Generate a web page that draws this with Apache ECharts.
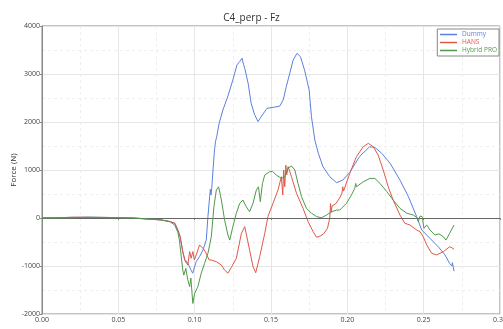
<!DOCTYPE html>
<html>
<head>
<meta charset="utf-8">
<script src="https://cdn.jsdelivr.net/npm/echarts@6/dist/echarts.min.js"></script>
<style>
  html, body { margin: 0; padding: 0; background: #fff; }
  #chart { width: 503px; height: 329px; }
</style>
</head>
<body>
<div id="chart"></div>
<script>
// Axis ticks
const xTicks = [0, 0.05, 0.10, 0.15, 0.20, 0.25, 0.30];
const yTicks = [-2000, -1000, 0, 1000, 2000, 3000, 4000];

// Dummy
const dummyT = [0, 0.01, 0.02, 0.03, 0.04, 0.05, 0.06, 0.07, 0.078, 0.084, 0.087, 0.089, 0.0905, 0.0922, 0.0935, 0.0956, 0.0975, 0.0987, 0.101, 0.1032, 0.1054, 0.1076, 0.1087, 0.1098, 0.1103, 0.1107, 0.1112, 0.112, 0.113, 0.1137, 0.1145, 0.116, 0.1185, 0.122, 0.125, 0.1277, 0.1285, 0.129, 0.1295, 0.1302, 0.131, 0.132, 0.1328, 0.135, 0.137, 0.1393, 0.1415, 0.1444, 0.1474, 0.1513, 0.1557, 0.158, 0.160, 0.1623, 0.1645, 0.167, 0.1693, 0.172, 0.175, 0.1765, 0.1787, 0.181, 0.184, 0.1885, 0.193, 0.197, 0.2016, 0.208, 0.2146, 0.218, 0.2225, 0.228, 0.2345, 0.240, 0.2454, 0.2487, 0.254, 0.2596, 0.264, 0.267, 0.2685, 0.2688, 0.2699];
const dummyF = [0, 5, 15, 15, 10, 5, 0, -20, -40, -75, -110, -250, -390, -700, -860, -945, -1080, -1150, -910, -805, -670, -460, 30, 445, 600, 480, 620, 1000, 1420, 1600, 1700, 1970, 2250, 2560, 2875, 3190, 3230, 3160, 3260, 3220, 3330, 3200, 3120, 2810, 2390, 2150, 2010, 2150, 2285, 2305, 2330, 2460, 2735, 3015, 3290, 3430, 3360, 3080, 2665, 2110, 1625, 1350, 1070, 860, 735, 790, 950, 1280, 1485, 1470, 1350, 1140, 790, 445, 30, -250, -420, -600, -770, -945, -1000, -930, -1110];

// HANS
const hansT = [0, 0.01, 0.02, 0.03, 0.04, 0.05, 0.06, 0.07, 0.078, 0.084, 0.087, 0.089, 0.0905, 0.0922, 0.0935, 0.0945, 0.0955, 0.0967, 0.0977, 0.0988, 0.0998, 0.101, 0.1032, 0.1054, 0.107, 0.108, 0.1095, 0.1109, 0.1142, 0.1175, 0.1196, 0.1218, 0.124, 0.1273, 0.1306, 0.1328, 0.136, 0.1382, 0.14, 0.1426, 0.1459, 0.148, 0.1513, 0.1546, 0.1568, 0.1577, 0.1583, 0.159, 0.1597, 0.1603, 0.1612, 0.1634, 0.1667, 0.171, 0.1743, 0.1776, 0.1798, 0.182, 0.1845, 0.187, 0.1885, 0.189, 0.1895, 0.190, 0.1925, 0.195, 0.1965, 0.197, 0.1975, 0.2016, 0.206, 0.2104, 0.2137, 0.217, 0.2202, 0.2235, 0.2268, 0.23, 0.2345, 0.2377, 0.241, 0.2454, 0.2476, 0.2497, 0.252, 0.2552, 0.2585, 0.2629, 0.267, 0.2685, 0.2699];
const hansF = [0, 5, 15, 15, 10, 0, -5, -25, -40, -75, -110, -250, -390, -700, -880, -920, -980, -700, -840, -700, -875, -770, -560, -630, -700, -770, -875, -875, -910, -980, -1085, -1150, -1030, -840, -320, -180, -670, -1010, -1140, -805, -320, 30, 305, 585, 860, 480, 1000, 650, 1100, 900, 1070, 860, 515, 200, -75, -285, -400, -380, -330, -215, 0, 300, 120, 250, 300, 420, 520, 650, 560, 930, 1280, 1485, 1555, 1485, 1310, 1000, 650, 375, 60, -110, -145, -250, -285, -390, -560, -735, -770, -700, -600, -620, -650];

// Hybrid PRO
const hybridT = [0, 0.01, 0.02, 0.03, 0.04, 0.05, 0.06, 0.07, 0.078, 0.084, 0.087, 0.089, 0.090, 0.0922, 0.0929, 0.0942, 0.0955, 0.0967, 0.0975, 0.0988, 0.100, 0.1021, 0.1043, 0.1065, 0.1087, 0.1109, 0.1126, 0.1142, 0.1157, 0.1175, 0.1196, 0.1218, 0.123, 0.125, 0.1273, 0.1295, 0.1316, 0.1338, 0.136, 0.1382, 0.1404, 0.1418, 0.143, 0.1444, 0.1459, 0.1491, 0.151, 0.1535, 0.1568, 0.159, 0.1612, 0.1634, 0.1656, 0.1677, 0.170, 0.1732, 0.1765, 0.1798, 0.183, 0.1863, 0.1896, 0.193, 0.195, 0.1994, 0.2027, 0.2049, 0.2055, 0.206, 0.2104, 0.2148, 0.218, 0.2214, 0.2258, 0.230, 0.2345, 0.239, 0.2433, 0.2454, 0.2465, 0.2476, 0.249, 0.2502, 0.252, 0.2541, 0.2574, 0.260, 0.2629, 0.2646, 0.267, 0.2699];
const hybridF = [0, 0, 5, 15, 15, 5, 0, -20, -40, -80, -150, -300, -460, -1085, -1190, -1050, -1290, -1430, -1250, -1780, -1570, -1430, -1150, -945, -735, -390, 235, 585, 650, 375, -40, -355, -460, -180, 100, 305, 375, 235, 130, 305, 585, 650, 340, 720, 895, 965, 970, 895, 825, 860, 1035, 1085, 1000, 720, 445, 200, 100, 30, 5, 60, 130, 165, 165, 305, 480, 620, 720, 650, 755, 825, 825, 720, 550, 375, 200, 100, 60, 15, -75, 40, 30, -215, -145, -250, -355, -330, -390, -460, -320, -145];

const seriesNames = ['Dummy', 'HANS', 'Hybrid PRO'];
const seriesColors = ['#5b80e0', '#e05848', '#50994a'];

function pairs(t, f) { return t.map((x, i) => [x, f[i]]); }

const chart = echarts.init(document.getElementById('chart'), null, { renderer: 'canvas' });
const axisFont = { fontFamily: 'Open Sans', fontSize: 7, color: '#444' };

chart.setOption({
  animation: false,
  backgroundColor: '#fff',
  title: {
    text: 'C4_perp - Fz',
    left: 'center',
    top: 8,
    textStyle: { fontFamily: 'Open Sans', fontSize: 10, fontWeight: 'normal', color: '#333' }
  },
  legend: {
    orient: 'vertical',
    right: 4,
    top: 29,
    padding: [2, 2, 2, 2],
    itemWidth: 17,
    itemHeight: 7,
    itemGap: 1,
    backgroundColor: '#fff',
    borderColor: '#888',
    borderWidth: 1,
    borderRadius: 0,
    itemStyle: { opacity: 0 },
    lineStyle: { width: 1.5 },
    textStyle: { fontFamily: 'Open Sans', fontSize: 6.5 },
    data: seriesNames.map((n, i) => ({ name: n, textStyle: { color: seriesColors[i] } }))
  },
  grid: {
    left: 42, right: 3, top: 26, bottom: 15,
    outerBoundsMode: 'none',
    containLabel: false,
    show: true, borderColor: '#888', borderWidth: 1, backgroundColor: 'transparent'
  },
  xAxis: {
    type: 'value',
    min: xTicks[0], max: xTicks[xTicks.length - 1], interval: 0.05,
    name: 'Time (s)', nameLocation: 'middle', nameGap: 16, nameMoveOverlap: false,
    nameTextStyle: { fontFamily: 'Open Sans', fontSize: 8, color: '#333' },
    axisLine: { show: true, lineStyle: { color: '#888', width: 1 } },
    axisTick: { show: true, length: 2, lineStyle: { color: '#888' } },
    axisLabel: Object.assign({ margin: 2, formatter: v => v.toFixed(2), showMaxLabel: true, hideOverlap: false }, axisFont),
    splitLine: { show: true, lineStyle: { color: '#e6e6e6', width: 1 } },
    minorTick: { show: false, splitNumber: 2 },
    minorSplitLine: { show: true, lineStyle: { color: '#eeeeee', type: [3, 3], width: 1 } }
  },
  yAxis: {
    type: 'value',
    min: yTicks[0], max: yTicks[yTicks.length - 1], interval: 1000,
    name: 'Force (N)', nameLocation: 'middle', nameGap: 24, nameMoveOverlap: false,
    nameTextStyle: { fontFamily: 'Open Sans', fontSize: 8, color: '#333' },
    axisLine: { show: true, lineStyle: { color: '#888', width: 1 } },
    axisTick: { show: true, length: 2, lineStyle: { color: '#888' } },
    axisLabel: Object.assign({ margin: 2, formatter: v => String(v) }, axisFont),
    splitLine: { show: true, lineStyle: { color: '#e6e6e6', width: 1 } },
    minorTick: { show: false, splitNumber: 2 },
    minorSplitLine: { show: true, lineStyle: { color: '#eeeeee', type: [3, 3], width: 1 } }
  },
  series: [
    [dummyT, dummyF], [hansT, hansF], [hybridT, hybridF]
  ].map((d, i) => ({
    name: seriesNames[i],
    type: 'line',
    data: pairs(d[0], d[1]),
    symbol: 'none',
    color: seriesColors[i],
    lineStyle: { width: 1, color: seriesColors[i] },
    z: 3 + i,
    markLine: i === 0 ? {
      silent: true,
      symbol: 'none',
      label: { show: false },
      lineStyle: { color: '#666', width: 1, type: 'solid' },
      data: [{ yAxis: 0 }]
    } : undefined
  }))
});
</script>
</body>
</html>
